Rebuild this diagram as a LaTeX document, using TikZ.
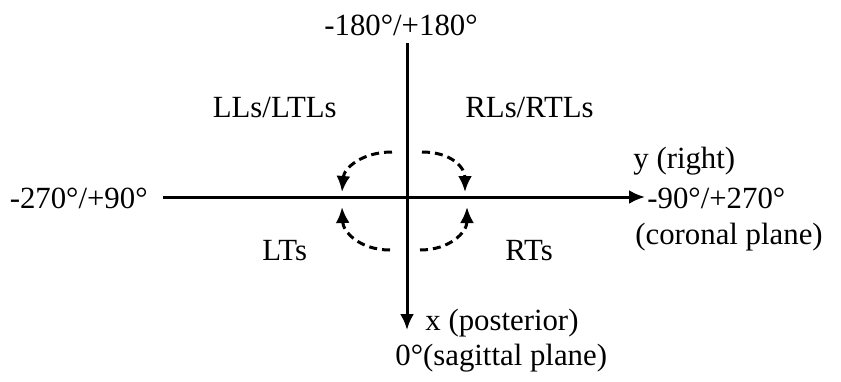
\documentclass[tikz,border=0pt]{standalone}
\usepackage{fontspec}
\setmainfont{Liberation Serif}
\usetikzlibrary{positioning,calc,arrows.meta}
\tikzset{>={Latex[length=8pt,width=7pt]}}
\tikzset{axis/.style={line width=1.5pt}}
\tikzset{rot/.style={line width=1.5pt,dash pattern=on 4pt off 2.5pt}}
\tikzset{lbl/.style={inner sep=0pt,font=\fontsize{15.4}{18}\selectfont}}

\begin{document}
\begin{tikzpicture}[x=0.5pt,y=-0.5pt]
	\useasboundingbox (0,0) rectangle (841,381);
		\coordinate (o) at (407,197);
		\coordinate (l) at (163,197);
		\coordinate (r) at (645,197);
		\coordinate (t) at (407,43);
		\coordinate (d) at (407,330);

			\draw[axis] (l) -- (o);
			\draw[axis,->] (o) -- (r);
			\draw[axis] (t) -- (o);
			\draw[axis,->] (o) -- (d);

			% rotation arrows
			\coordinate (ul1) at (392,152); \coordinate (ul2) at (342,192);
			\coordinate (ur1) at (422,152); \coordinate (ur2) at (465,192);
			\coordinate (ll1) at (390,250); \coordinate (ll2) at (342,207);
			\coordinate (lr1) at (420,250); \coordinate (lr2) at (467,207);
			\draw[rot,->] (ul1) .. controls (362,152) and (344,168) .. (ul2);
			\draw[rot,->] (ur1) .. controls (452,152) and (465,168) .. (ur2);
			\draw[rot,->] (ll1) .. controls (360,250) and (343,232) .. (ll2);
			\draw[rot,->] (lr1) .. controls (450,250) and (467,232) .. (lr2);

				\node[lbl,anchor=base] (top) at (401,35) {-180°/+180°};
				\node[lbl,anchor=base east] (lft) at (148,208) {-270°/+90°};
				\node[lbl,anchor=base west] (yax) at (633,168) {y (right)};
				\node[lbl,anchor=base west] (rgt) at (647,208) {-90°/+270°};
				\node[lbl,anchor=base west] (cor) at (635,244) {(coronal plane)};
				\node[lbl,anchor=base west] (xax) at (425,330) {x (posterior)};
				\node[lbl,anchor=base west] (sag) at (395,365) {0°(sagittal plane)};
				\node[lbl,anchor=base east] (ll) at (337,117) {LLs/LTLs};
				\node[lbl,anchor=base west] (rl) at (465,117) {RLs/RTLs};
				\node[lbl,anchor=base west] (lt) at (262,260) {LTs};
				\node[lbl,anchor=base west] (rt) at (505,260) {RTs};
	\end{tikzpicture}
\end{document}
